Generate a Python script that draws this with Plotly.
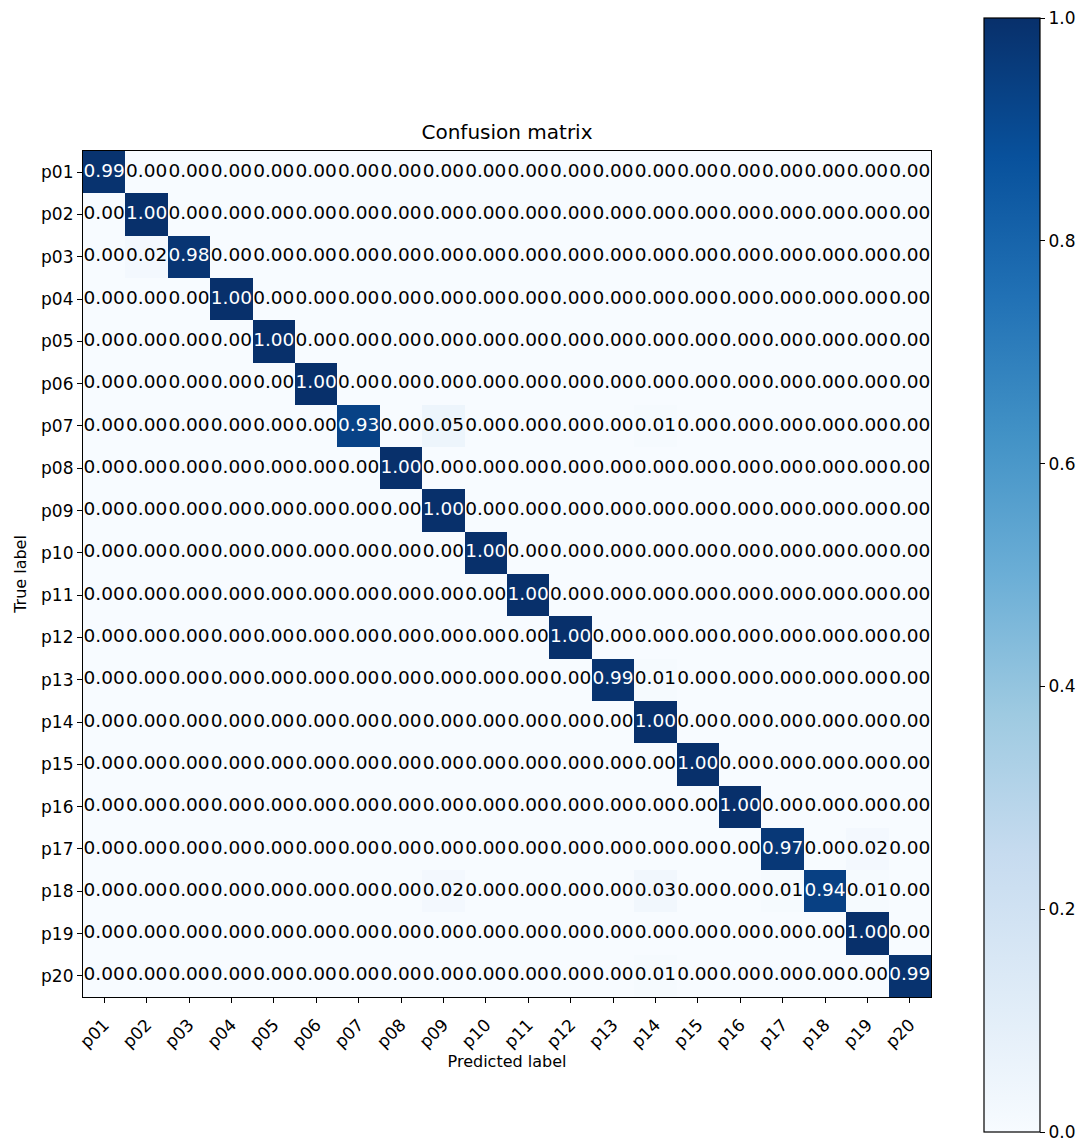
import plotly.graph_objects as go

labels = ["p01", "p02", "p03", "p04", "p05", "p06", "p07", "p08", "p09", "p10",
          "p11", "p12", "p13", "p14", "p15", "p16", "p17", "p18", "p19", "p20"]

# Row-normalised confusion matrix (rows = true label, columns = predicted label)
row_p01 = [0.99, 0, 0, 0, 0, 0, 0, 0, 0, 0, 0, 0, 0, 0, 0, 0, 0, 0, 0, 0]
row_p02 = [0, 1.00, 0, 0, 0, 0, 0, 0, 0, 0, 0, 0, 0, 0, 0, 0, 0, 0, 0, 0]
row_p03 = [0, 0.02, 0.98, 0, 0, 0, 0, 0, 0, 0, 0, 0, 0, 0, 0, 0, 0, 0, 0, 0]
row_p04 = [0, 0, 0, 1.00, 0, 0, 0, 0, 0, 0, 0, 0, 0, 0, 0, 0, 0, 0, 0, 0]
row_p05 = [0, 0, 0, 0, 1.00, 0, 0, 0, 0, 0, 0, 0, 0, 0, 0, 0, 0, 0, 0, 0]
row_p06 = [0, 0, 0, 0, 0, 1.00, 0, 0, 0, 0, 0, 0, 0, 0, 0, 0, 0, 0, 0, 0]
row_p07 = [0, 0, 0, 0, 0, 0, 0.93, 0, 0.05, 0, 0, 0, 0, 0.01, 0, 0, 0, 0, 0, 0]
row_p08 = [0, 0, 0, 0, 0, 0, 0, 1.00, 0, 0, 0, 0, 0, 0, 0, 0, 0, 0, 0, 0]
row_p09 = [0, 0, 0, 0, 0, 0, 0, 0, 1.00, 0, 0, 0, 0, 0, 0, 0, 0, 0, 0, 0]
row_p10 = [0, 0, 0, 0, 0, 0, 0, 0, 0, 1.00, 0, 0, 0, 0, 0, 0, 0, 0, 0, 0]
row_p11 = [0, 0, 0, 0, 0, 0, 0, 0, 0, 0, 1.00, 0, 0, 0, 0, 0, 0, 0, 0, 0]
row_p12 = [0, 0, 0, 0, 0, 0, 0, 0, 0, 0, 0, 1.00, 0, 0, 0, 0, 0, 0, 0, 0]
row_p13 = [0, 0, 0, 0, 0, 0, 0, 0, 0, 0, 0, 0, 0.99, 0.01, 0, 0, 0, 0, 0, 0]
row_p14 = [0, 0, 0, 0, 0, 0, 0, 0, 0, 0, 0, 0, 0, 1.00, 0, 0, 0, 0, 0, 0]
row_p15 = [0, 0, 0, 0, 0, 0, 0, 0, 0, 0, 0, 0, 0, 0, 1.00, 0, 0, 0, 0, 0]
row_p16 = [0, 0, 0, 0, 0, 0, 0, 0, 0, 0, 0, 0, 0, 0, 0, 1.00, 0, 0, 0, 0]
row_p17 = [0, 0, 0, 0, 0, 0, 0, 0, 0, 0, 0, 0, 0, 0, 0, 0, 0.97, 0, 0.02, 0]
row_p18 = [0, 0, 0, 0, 0, 0, 0, 0, 0.02, 0, 0, 0, 0, 0.03, 0, 0, 0.01, 0.94, 0.01, 0]
row_p19 = [0, 0, 0, 0, 0, 0, 0, 0, 0, 0, 0, 0, 0, 0, 0, 0, 0, 0, 1.00, 0]
row_p20 = [0, 0, 0, 0, 0, 0, 0, 0, 0, 0, 0, 0, 0, 0.01, 0, 0, 0, 0, 0, 0.99]

matrix = [row_p01, row_p02, row_p03, row_p04, row_p05, row_p06, row_p07, row_p08,
          row_p09, row_p10, row_p11, row_p12, row_p13, row_p14, row_p15, row_p16,
          row_p17, row_p18, row_p19, row_p20]

cbar_ticks = [0.0, 0.2, 0.4, 0.6, 0.8, 1.0]
cbar_ticktext = ["0.0", "0.2", "0.4", "0.6", "0.8", "1.0"]

blues = [
    [0.000, "#f7fbff"], [0.125, "#deebf7"], [0.250, "#c6dbef"],
    [0.375, "#9ecae1"], [0.500, "#6baed6"], [0.625, "#4292c6"],
    [0.750, "#2171b5"], [0.875, "#08519c"], [1.000, "#08306b"],
]

W, H = 1083, 1141
L, R, T, B = 83, 931, 151, 997  # plot-area edges in pixels
plot_w, plot_h = R - L, B - T

n = len(labels)
idx = list(range(n))

# keep the end ticks inside the colorbar range so both get drawn
eps = 1e-6
cbar_tickpos = [min(max(v, eps), 1 - eps) for v in cbar_ticks]

fig = go.Figure()
fig.add_trace(go.Heatmap(
    z=matrix, x=idx, y=idx,
    colorscale=blues, zmin=0, zmax=1,
    hoverinfo="skip",
    colorbar=dict(
        thickness=56,
        lenmode="pixels", len=1114,
        x=(984 - L) / plot_w, xanchor="left", xpad=0,
        y=(B - 575) / plot_h, yanchor="middle", ypad=0,
        outlinewidth=1.2, outlinecolor="black",
        tickmode="array", tickvals=cbar_tickpos, ticktext=cbar_ticktext,
        ticklabeloverflow="allow",
        ticks="outside", ticklen=5, tickwidth=1, tickcolor="black",
        tickfont=dict(family="DejaVu Sans", size=17, color="black"),
    ),
))

# Cell annotations: white on dark cells, black elsewhere
thresh = max(max(r) for r in matrix) / 2.0
tx, ty, tt, tc = [], [], [], []
for i, row in enumerate(matrix):
    for j, v in enumerate(row):
        tx.append(j)
        ty.append(i)
        tt.append(f"{v:.2f}")
        tc.append("white" if v > thresh else "black")

fig.add_trace(go.Scatter(
    x=tx, y=ty, mode="text", text=tt,
    textfont=dict(family="DejaVu Sans", size=18.5, color=tc),
    hoverinfo="skip", showlegend=False,
))

axis_common = dict(
    showgrid=False, zeroline=False,
    showline=True, mirror=True, linecolor="black", linewidth=1.2,
    ticks="outside", ticklen=5, tickwidth=1, tickcolor="black",
    tickfont=dict(family="DejaVu Sans", size=17, color="black"),
    tickvals=idx, ticktext=labels,
)

fig.update_layout(
    width=W, height=H,
    margin=dict(l=L, r=W - R, t=T, b=H - B, autoexpand=False),
    paper_bgcolor="white", plot_bgcolor="white",
    showlegend=False,
    title=dict(
        text="Confusion matrix",
        font=dict(family="DejaVu Sans", size=20, color="black"),
        x=(L + R) / 2 / W, xanchor="center",
        y=1 - 132 / H, yanchor="middle",
    ),
    xaxis=dict(
        **axis_common,
        range=[-0.5, n - 0.5], tickangle=-45, ticklabelstandoff=5,
        title=dict(text="Predicted label", standoff=4,
                   font=dict(family="DejaVu Sans", size=16, color="black")),
    ),
    yaxis=dict(
        **axis_common,
        range=[n - 0.5, -0.5],
        title=dict(text="True label", standoff=10,
                   font=dict(family="DejaVu Sans", size=16, color="black")),
    ),
)

fig.write_html("out.html")
